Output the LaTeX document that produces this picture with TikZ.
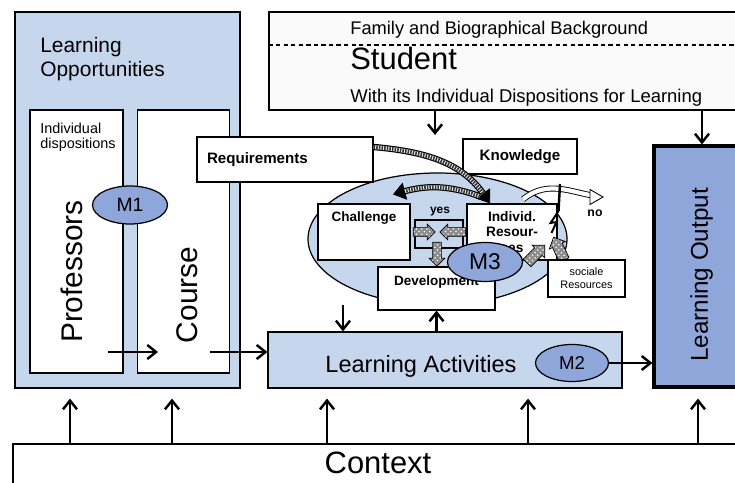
\documentclass[tikz,border=0pt]{standalone}
\usepackage{fontspec}
\setmainfont{Liberation Sans}
\usepackage{xcolor}
\usepackage{tikz}
\usetikzlibrary{shapes.geometric,shapes.arrows,arrows.meta,positioning,patterns}

\definecolor{paleblue}{HTML}{C6D6EC}
\definecolor{midblue}{HTML}{8FA6DB}
\definecolor{offwhite}{HTML}{FAFAFA}

\begin{document}
\begin{tikzpicture}[
    box/.style={rectangle, draw, fill=white, line width=0.7pt, inner sep=0pt},
    bluebox/.style={box, fill=paleblue},
    mbubble/.style={ellipse, draw, fill=midblue, line width=0.7pt, inner sep=0pt, minimum width=1.5cm, minimum height=0.76cm},
    boldtxt/.style={font=\bfseries\fontsize{#1}{#1}\selectfont},
    arrow/.style={-{Straight Barb[length=5pt,width=8pt]}, line width=1.4pt},
    hatchline/.style={line width=3.6pt, draw=black, -{Triangle[length=7pt,width=10pt,line width=0.4pt]},
        postaction={draw=white, line width=2.2pt, arrows=-, shorten >=7pt},
        postaction={draw=black!80, line width=2.2pt, arrows=-, shorten >=7pt, dash pattern=on 0.9pt off 0.6pt}},
    hatchtip/.style={single arrow, draw, line width=0.4pt, preaction={fill=black!45}, pattern=crosshatch dots, pattern color=white,
        inner xsep=0pt, inner ysep=0.08cm, single arrow head extend=0.07cm}
]
\useasboundingbox (0,0) rectangle (14.7,9.64);

% Learning Opportunities
\node[bluebox, minimum width=4.5cm, minimum height=7.52cm] (opp) at (2.55,5.64) {};
\node[anchor=north west, align=left, inner sep=0pt, font=\fontsize{11.9}{13.6}\selectfont] (opptitle) at (0.80,8.89) {Learning\\Opportunities};
\node[box, minimum width=1.86cm, minimum height=5.26cm] (prof) at (1.53,4.81) {};
\node[box, minimum width=1.84cm, minimum height=5.26cm, right=0.26cm of prof] (course) {};
\node[anchor=north west, align=left, inner sep=0pt, font=\fontsize{8.2}{8.4}\selectfont] (disp) at (0.80,7.19) {Individual\\dispositions};
\node[rotate=90, font=\fontsize{17}{20}\selectfont] (proftxt) at (1.44,4.21) {Professors};
\node[rotate=90, font=\fontsize{17}{20}\selectfont] (coursetxt) at (3.74,3.74) {Course};
\node[mbubble, font=\fontsize{11}{13}\selectfont] (m1) at (2.60,5.54) {M1};

% Student
\node[box, fill=offwhite, minimum width=9.62cm, minimum height=1.96cm] (student) at (10.19,8.42) {};
\draw[dash pattern=on 2.5pt off 1.8pt, line width=0.6pt] ([yshift=0.32cm]student.west) -- ([yshift=0.32cm]student.east);
\node[anchor=base west, inner sep=0pt, font=\fontsize{10.4}{12}\selectfont] (family) at (7.00,8.94) {Family and Biographical Background};
\node[anchor=base west, inner sep=0pt, font=\fontsize{17.6}{20}\selectfont] (studtxt) at (7.00,8.24) {Student};
\node[anchor=base west, inner sep=0pt, font=\fontsize{10.5}{12}\selectfont] (disptxt) at (7.00,7.58) {With its Individual Dispositions for Learning};

% Learning Output
\node[box, fill=midblue, line width=1.8pt, minimum width=1.92cm, minimum height=4.82cm] (out) at (14.04,4.31) {};
\node[rotate=90, font=\fontsize{13.8}{16}\selectfont] (outtxt) at (14.03,4.14) {Learning Output};

% Learning process
\node[ellipse, draw, fill=paleblue, line width=0.7pt, inner sep=0pt, minimum width=5.18cm, minimum height=2.64cm] (pool) at (8.75,4.86) {};
\node[box, minimum width=3.52cm, minimum height=0.9cm, text width=3.12cm, inner xsep=0.2cm, align=left, boldtxt=8.6] (req) at (5.70,6.45) {Requirements};
\node[box, minimum width=2.28cm, minimum height=0.70cm, boldtxt=8.6] (know) at (10.40,6.51) {Knowledge};
\node[box, minimum width=1.84cm, text height=0.25cm, text depth=0.65cm, inner ysep=0.11cm, boldtxt=7.7] (chal) at (7.28,5.00) {Challenge};
\node[box, minimum width=1.80cm, minimum height=1.12cm, align=center, font=\bfseries\fontsize{7.8}{8.6}\selectfont] (indiv) at (10.24,5.00) {Individ.\\Resour-\\ces};
\node[box, minimum width=2.34cm, text height=0.26cm, text depth=0.40cm, inner ysep=0.1cm, boldtxt=7.7] (dev) at (8.73,3.87) {Development};
\node[draw, line width=0.6pt, minimum width=0.96cm, minimum height=0.56cm, inner sep=0pt] (cross) at (8.78,4.96) {};
\node[hatchtip, minimum height=0.44cm] (toright) at (8.44,5.00) {};
\node[hatchtip, minimum height=0.52cm, rotate=180] (toleft) at (9.10,5.00) {};
\node[hatchtip, minimum height=0.48cm, rotate=270] (todown) at (8.74,4.60) {};
\node[hatchtip, minimum height=0.5cm, inner ysep=0.1cm, rotate=45] (socup1) at (10.68,4.52) {};
\node[hatchtip, minimum height=0.5cm, inner ysep=0.1cm, rotate=115] (socup2) at (11.20,4.62) {};
\node[mbubble, minimum height=0.78cm, font=\fontsize{13}{15}\selectfont] (m3) at (9.70,4.40) {M3};
\node[box, minimum width=1.54cm, minimum height=0.74cm, align=center, font=\fontsize{6.2}{7.4}\selectfont] (social) at (11.73,4.07) {sociale\\Resources};

\draw[hatchline] ([yshift=0.25cm]req.east) to[out=-5, in=125] ([xshift=-0.44cm]indiv.north);
\draw[hatchline] ([xshift=-0.64cm,yshift=0.14cm]indiv.north) to[out=160, in=15] ([xshift=0.58cm,yshift=0.18cm]chal.north);
\node[boldtxt=6.8] (yes) at (8.80,5.40) {yes};

% "no" branch
\coordinate (noend) at (12.06,5.70);
\draw[line width=0.5pt, double=white, double distance=2.4pt, shorten >=5pt] ([xshift=0.22cm,yshift=0.08cm]indiv.north) to[out=40, in=172] (noend);
\draw[line width=0.5pt, fill=white] (noend) -- ++(-0.26,0.15) -- ++(0,-0.30) -- cycle;
\node[boldtxt=7] (no) at (11.90,5.38) {no};
\coordinate (block) at (11.20,5.96);
\draw[line width=1.4pt] (block) -- ++(-0.03,-0.54) coordinate (bolt);
\draw[line width=1.1pt] (bolt) -- ++(-0.16,-0.24) -- ++(0.12,0.02) -- ++(-0.10,-0.22);

% Learning Activities
\node[bluebox, minimum width=7.08cm, minimum height=1.12cm] (act) at (8.90,2.44) {};
\node[anchor=base, font=\fontsize{13.4}{16}\selectfont] (acttxt) at (8.42,2.20) {Learning Activities};
\node[mbubble, minimum width=1.46cm, minimum height=0.74cm, font=\fontsize{10.6}{12}\selectfont] (m2) at (11.44,2.38) {M2};

% Context
\node[box, minimum width=14.74cm, minimum height=1.26cm] (context) at (7.63,0.13) {};
\node[anchor=base, font=\fontsize{17.6}{20}\selectfont] (contexttxt) at (7.56,0.18) {Context};

% Arrows
\coordinate (pstart) at (2.16,2.60);
\coordinate (pend) at (3.16,2.60);
\draw[arrow] (pstart) -- (pend);
\coordinate (cstart) at (4.20,2.60);
\draw[arrow] (cstart) -- (cstart -| act.west);
\coordinate (sdown) at (8.70,6.94);
\draw[arrow] (student.south -| sdown) -- (sdown);
\draw[arrow] (student.south -| out.north) -- (out.north);
\coordinate (pooldown) at (6.86,3.54);
\draw[arrow] (pooldown) -- (pooldown |- act.north);
\draw[arrow] (act.north -| dev.south) -- (dev.south);
\draw[arrow] (m2.east) -- (m2.east -| out.west);
\foreach \x/\t [count=\i] in {1.40/opp, 3.44/opp, 6.54/act, 10.56/act, 13.96/out} {
    \coordinate (up\i) at (\x,0);
    \draw[arrow, shorten >=0.2cm] (context.north -| up\i) -- (\t.south -| up\i);
}

\end{tikzpicture}
\end{document}
